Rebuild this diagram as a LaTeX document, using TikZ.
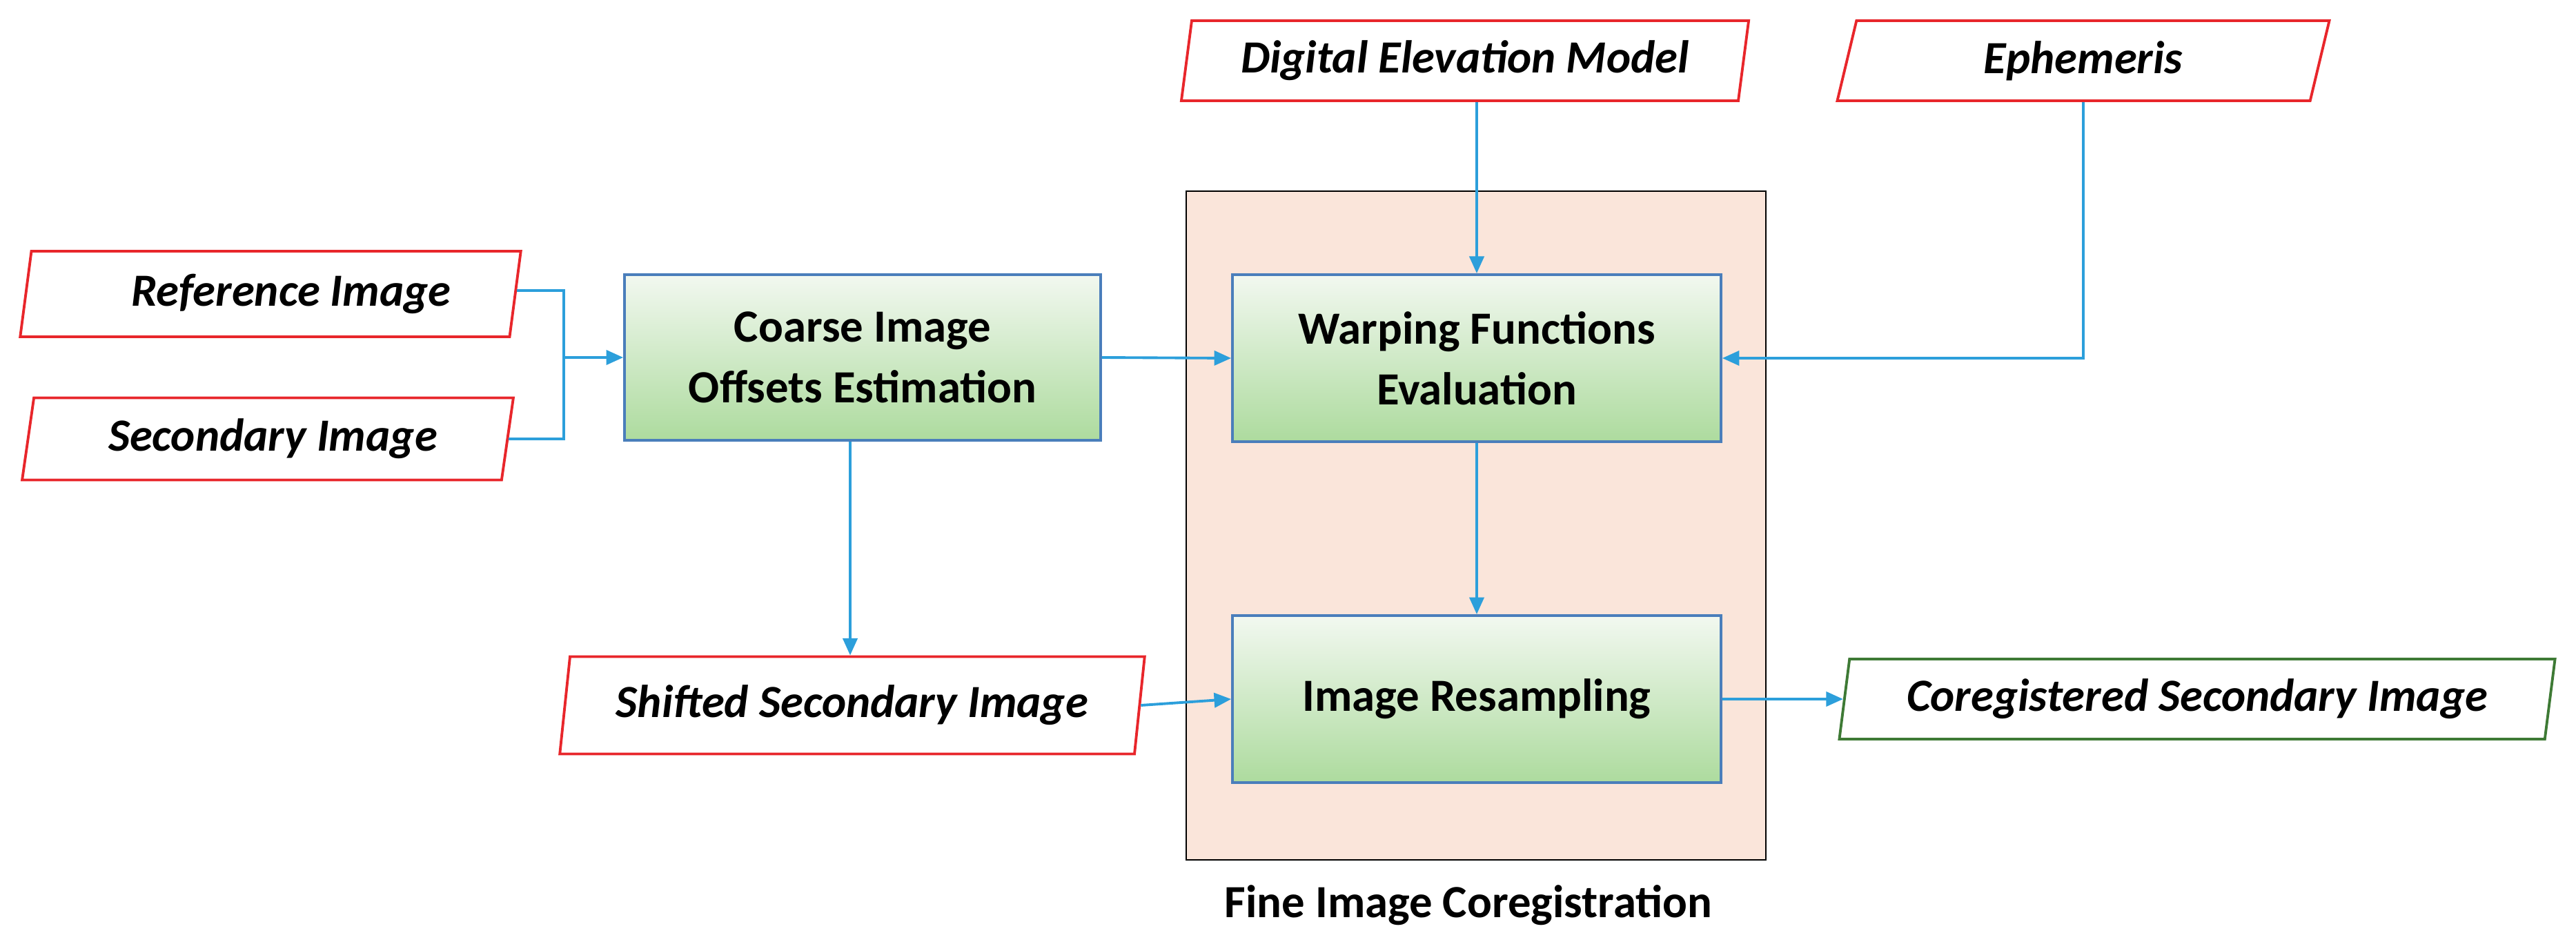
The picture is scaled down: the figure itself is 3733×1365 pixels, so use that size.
\documentclass[tikz,border=0pt]{standalone}
\usepackage{fontspec}
\setmainfont{Carlito}
\usetikzlibrary{shapes.geometric,arrows.meta}
\definecolor{lred}{HTML}{E8262B}
\definecolor{lgreen}{HTML}{3E7A35}
\definecolor{lblue}{HTML}{2C9FDB}
\definecolor{bblue}{HTML}{4A7EBB}
\definecolor{gtop}{HTML}{F2F8F0}
\definecolor{gbot}{HTML}{ADDB9E}
\definecolor{pink}{HTML}{FAE5DA}
\tikzset{
  data/.style={trapezium, trapezium left angle=78, trapezium right angle=102, trapezium stretches=true,
     draw=lred, line width=2.2pt, fill=white, inner sep=0pt,
     font=\fontsize{38}{46}\selectfont\bfseries\itshape},
  proc/.style={rectangle, draw=bblue, line width=2.2pt, top color=gtop, bottom color=gbot, inner sep=0pt,
     align=center, font=\fontsize{38}{50}\selectfont\bfseries},
  conn/.style={lblue, line width=2.2pt, -{Triangle[length=14pt,width=12pt]}},
}
\begin{document}
\begin{tikzpicture}[x=0.02cm,y=-0.02cm]
\useasboundingbox (0,0) rectangle (3733,1365);
\node[draw=black, line width=1.5pt, fill=pink, minimum width=16.8cm, minimum height=19.38cm, inner sep=0pt] (fine) at (2139,761.5) {};
\node[font=\fontsize{38}{46}\selectfont\bfseries] (finelbl) at (2128,1312) {Fine Image Coregistration};

\node[data, minimum width=14.52cm, minimum height=2.48cm] (ref) at (392,426) {\hspace*{1.2cm}Reference Image};
\node[data, minimum width=14.3cm, minimum height=2.38cm] (sec) at (388,636) {\hspace*{0.3cm}Secondary Image};
\node[data, minimum width=17.0cm, minimum height=2.82cm] (shift) at (1235,1022) {Shifted Secondary Image};
\node[data, minimum width=16.52cm, minimum height=2.32cm] (dem) at (2123,88) {Digital Elevation Model};
\node[data, minimum width=14.28cm, minimum height=2.32cm] (eph) at (3019,88) {Ephemeris};
\node[data, draw=lgreen, minimum width=20.88cm, minimum height=2.32cm] (coreg) at (3184,1013) {Coregistered Secondary Image};

\node[proc, minimum width=13.8cm, minimum height=4.8cm] (coarse) at (1250,518) {Coarse Image\\Offsets Estimation};
\node[proc, minimum width=14.16cm, minimum height=4.84cm] (warp) at (2140,519) {Warping Functions\\Evaluation};
\node[proc, minimum width=14.16cm, minimum height=4.84cm] (resamp) at (2140,1013) {Image Resampling};

\coordinate (j) at (817,518);
\draw[lblue, line width=2.2pt] (ref.east |- 0,421) -- (817,421) -- (817,636) -- (sec.east |- 0,636);
\draw[conn] (j) -- (coarse.west);
\draw[conn] (coarse.east) -- (warp.west);
\draw[conn] (coarse.south -| 1232,0) -- (shift.north -| 1232,0);
\draw[conn] (shift.east) -- (resamp.west);
\draw[conn] (dem.south -| warp.north) -- (warp.north);
\draw[conn] (warp.south) -- (resamp.north);
\draw[conn] (resamp.east) -- (coreg.west);
\draw[conn] (eph.south) |- (warp.east);
\end{tikzpicture}
\end{document}
